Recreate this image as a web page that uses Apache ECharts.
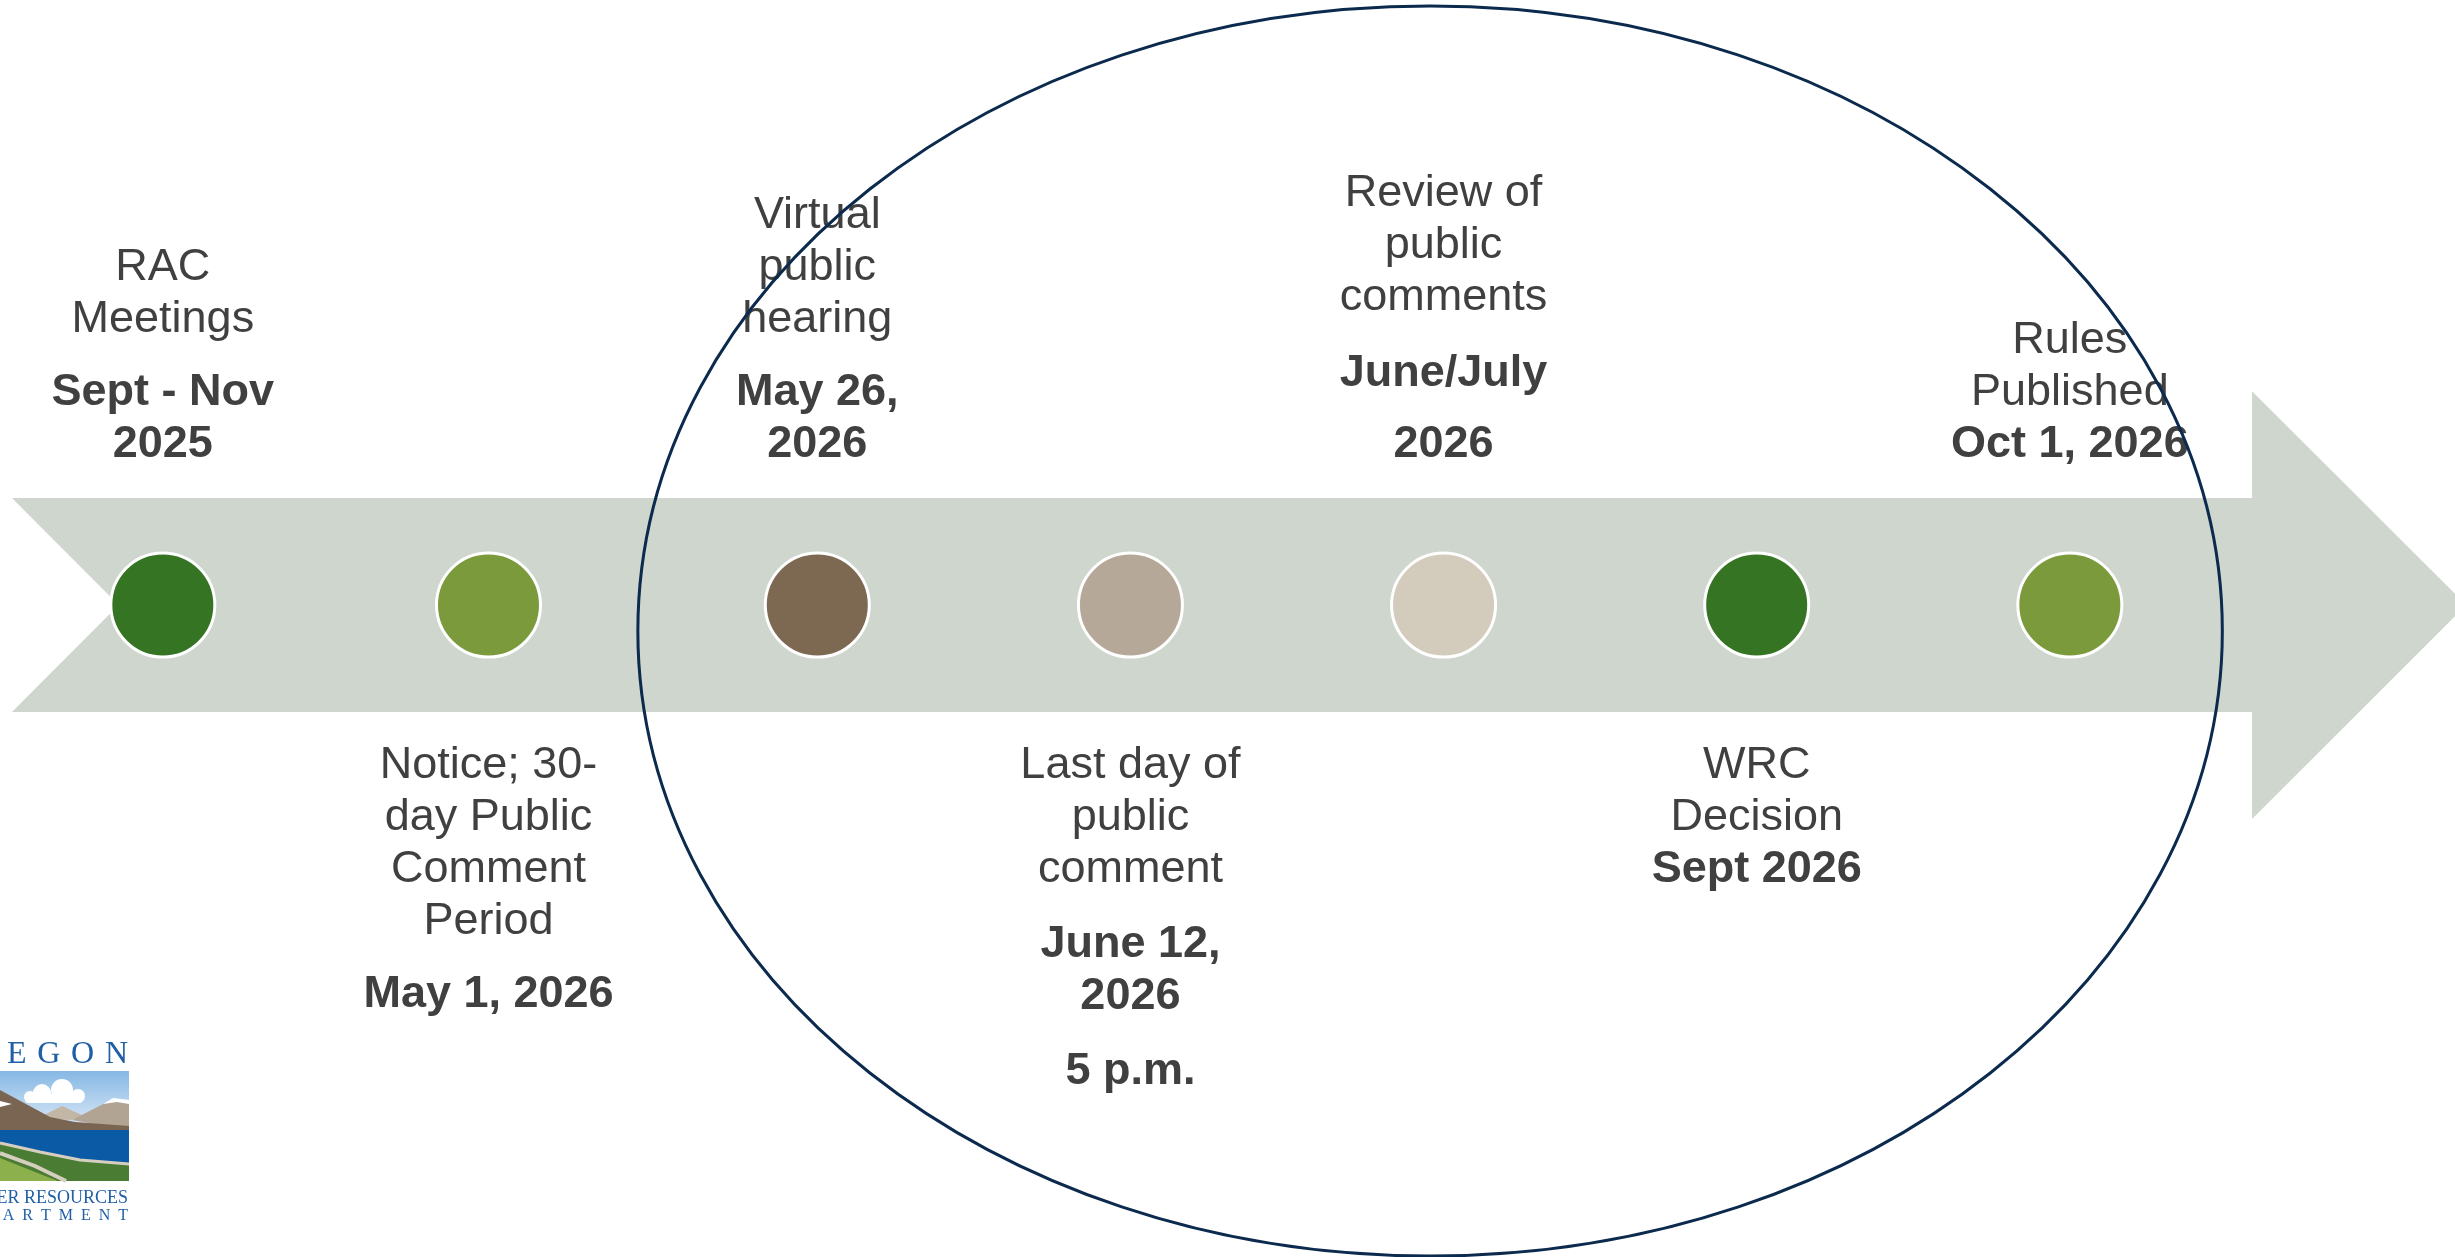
<!DOCTYPE html>
<html>
<head>
<meta charset="utf-8">
<script src="https://cdn.jsdelivr.net/npm/echarts@6/dist/echarts.min.js"></script>
<style>
html,body{margin:0;padding:0;background:#ffffff;}
#chart{width:2455px;height:1257px;}
</style>
</head>
<body>
<div id="chart"></div>
<script>
// ---- data ----
const milestonePos = [0, 1.04, 2.09, 3.09, 4.09, 5.09, 6.09];
const milestoneColors = ['#357423', '#7a9a3c', '#7d6852', '#b6a898', '#d3cbbc', '#357423', '#7a9a3c'];
const labelSides = ['top', 'bottom', 'top', 'bottom', 'top', 'bottom', 'top'];
const titleLines = [
  ['RAC', 'Meetings'],
  ['Notice; 30-', 'day Public', 'Comment', 'Period'],
  ['Virtual', 'public', 'hearing'],
  ['Last day of', 'public', 'comment'],
  ['Review of', 'public', 'comments'],
  ['WRC', 'Decision'],
  ['Rules', 'Published']
];
const dateGroups = [
  [['Sept - Nov', '2025']],
  [['May 1, 2026']],
  [['May 26,', '2026']],
  [['June 12,', '2026'], ['5 p.m.']],
  [['June/July'], ['2026']],
  [['Sept 2026']],
  [['Oct 1, 2026']]
];
const arrowOutline = [[-0.482, 0.342], [6.672, 0.342], [6.672, 0.684], [7.356, 0], [6.672, -0.684], [6.672, -0.342], [-0.482, -0.342], [-0.141, 0]];
const focusEllipse = { cx: 4.047, cy: -0.083, rx: 2.530, ry: 1.999 };

// ---- layout / style ----
const titleGap = [21, 21, 21, 23, 24, 0, 0];
const groupGap = [0, 0, 0, 23, 19, 0, 0];
const FONT = '"Liberation Sans", Arial, sans-serif';
const TEXT_COLOR = '#404040';

function buildLabel(i) {
  const parts = titleLines[i].map(t => '{t|' + t + '}');
  dateGroups[i].forEach((g, gi) => {
    const gap = gi === 0 ? titleGap[i] : groupGap[i];
    if (gap > 0) parts.push('{gap' + gi + '| }');
    g.forEach(t => parts.push('{d|' + t + '}'));
  });
  return parts.join('\n');
}
function richFor(i) {
  return {
    t: { fontFamily: FONT, fontSize: 45, lineHeight: 52, color: TEXT_COLOR, align: 'center' },
    d: { fontFamily: FONT, fontSize: 45, lineHeight: 52, color: TEXT_COLOR, fontWeight: 'bold', align: 'center' },
    gap0: { fontSize: 2, lineHeight: Math.max(titleGap[i], 1) },
    gap1: { fontSize: 2, lineHeight: Math.max(groupGap[i], 1) }
  };
}

const chart = echarts.init(document.getElementById('chart'), null, { renderer: 'canvas' });

const logoBlue = '#1f5fa6';
const sp = '\u2004';
const option = {
  backgroundColor: '#ffffff',
  animation: false,
  grid: { left: 0, right: 0, top: 0, bottom: 0, containLabel: false },
  xAxis: { type: 'value', min: -0.52, max: 7.32, show: false },
  yAxis: { type: 'value', min: -2.085, max: 1.935, show: false },
  series: [
    {
      type: 'custom', z: 1, silent: true, clip: false,
      data: [[0, 0]],
      renderItem: (params, api) => ({
        type: 'polygon',
        shape: { points: arrowOutline.map(p => api.coord(p)) },
        style: { fill: '#cfd6ce' }
      })
    },
    {
      type: 'scatter', z: 5, symbol: 'circle', symbolSize: 104, clip: false,
      emphasis: { disabled: true },
      data: milestonePos.map((x, i) => ({
        value: [x, 0],
        itemStyle: { color: milestoneColors[i], borderColor: '#ffffff', borderWidth: 3, opacity: 1 },
        label: {
          show: true,
          position: labelSides[i],
          distance: labelSides[i] === 'top' ? 81 : 81,
          formatter: buildLabel(i),
          rich: richFor(i)
        }
      }))
    },
    {
      type: 'custom', z: 10, silent: true, clip: false,
      data: [[0, 0]],
      renderItem: (params, api) => {
        const c = api.coord([focusEllipse.cx, focusEllipse.cy]);
        const s = api.size([focusEllipse.rx, focusEllipse.ry]);
        return {
          type: 'ellipse',
          shape: { cx: c[0], cy: c[1], rx: s[0], ry: s[1] },
          style: { fill: 'none', stroke: '#0b2a4d', lineWidth: 3 }
        };
      }
    }
  ],
  graphic: [
    { type: 'text', z: 20, style: { x: 128, y: 1071, text: ['O', 'R', 'E', 'G', 'O', 'N'].join(sp), textAlign: 'right', textVerticalAlign: 'bottom', font: '32px "Liberation Serif", serif', fill: logoBlue } },
    { type: 'rect', z: 20, shape: { x: 0, y: 1071, width: 129, height: 110 },
      style: { fill: new echarts.graphic.LinearGradient(0, 0, 0, 1, [{ offset: 0, color: '#86b8e4' }, { offset: 0.4, color: '#c8def3' }, { offset: 1, color: '#eaf2fa' }]) } },
    { type: 'rect', z: 21, shape: { x: 25, y: 1094, width: 58, height: 9, r: 4 }, style: { fill: '#ffffff' } },
    { type: 'circle', z: 21, shape: { cx: 30, cy: 1097, r: 6 }, style: { fill: '#ffffff' } },
    { type: 'circle', z: 21, shape: { cx: 42, cy: 1093, r: 9 }, style: { fill: '#ffffff' } },
    { type: 'circle', z: 21, shape: { cx: 62, cy: 1090, r: 11 }, style: { fill: '#ffffff' } },
    { type: 'circle', z: 21, shape: { cx: 78, cy: 1096, r: 7 }, style: { fill: '#ffffff' } },
    { type: 'polygon', z: 22, shape: { points: [[38, 1118], [62, 1106], [84, 1116], [70, 1120]] }, style: { fill: '#c2b6a5' } },
    { type: 'polygon', z: 22, shape: { points: [[72, 1120], [113, 1099], [129, 1102], [129, 1128], [95, 1124]] }, style: { fill: '#b2a493' } },
    { type: 'polygon', z: 23, shape: { points: [[103, 1104], [113, 1098], [129, 1100], [129, 1104], [117, 1102]] }, style: { fill: '#ffffff' } },
    { type: 'polygon', z: 23, shape: { points: [[0, 1090], [50, 1117], [75, 1122], [129, 1126], [129, 1131], [0, 1131]] }, style: { fill: '#7a6553' } },
    { type: 'polygon', z: 24, shape: { points: [[0, 1101], [12, 1104], [0, 1107]] }, style: { fill: '#ffffff' } },
    { type: 'rect', z: 24, shape: { x: 0, y: 1130, width: 129, height: 36 }, style: { fill: '#0b5aa6' } },
    { type: 'polygon', z: 25, shape: { points: [[0, 1143], [40, 1152], [80, 1160], [129, 1164], [129, 1181], [0, 1181]] }, style: { fill: '#4a7c34' } },
    { type: 'polyline', z: 26, shape: { points: [[0, 1143], [40, 1152], [80, 1160], [129, 1164]] }, style: { stroke: '#d6cfbf', lineWidth: 3, fill: null } },
    { type: 'polygon', z: 26, shape: { points: [[0, 1158], [30, 1170], [58, 1181], [0, 1181]] }, style: { fill: '#8cb04b' } },
    { type: 'polyline', z: 27, shape: { points: [[0, 1153], [35, 1166], [66, 1181]] }, style: { stroke: '#d6cfbf', lineWidth: 4, fill: null } },
    { type: 'text', z: 20, style: { x: 128, y: 1207, text: 'WATER RESOURCES', textAlign: 'right', textVerticalAlign: 'bottom', font: '18px "Liberation Serif", serif', fill: logoBlue } },
    { type: 'text', z: 20, style: { x: 128, y: 1224, text: 'D\u2002E\u2002P\u2002A\u2002R\u2002T\u2002M\u2002E\u2002N\u2002T', textAlign: 'right', textVerticalAlign: 'bottom', font: '16px "Liberation Serif", serif', fill: logoBlue } }
  ]
};
chart.setOption(option);
</script>
</body>
</html>
